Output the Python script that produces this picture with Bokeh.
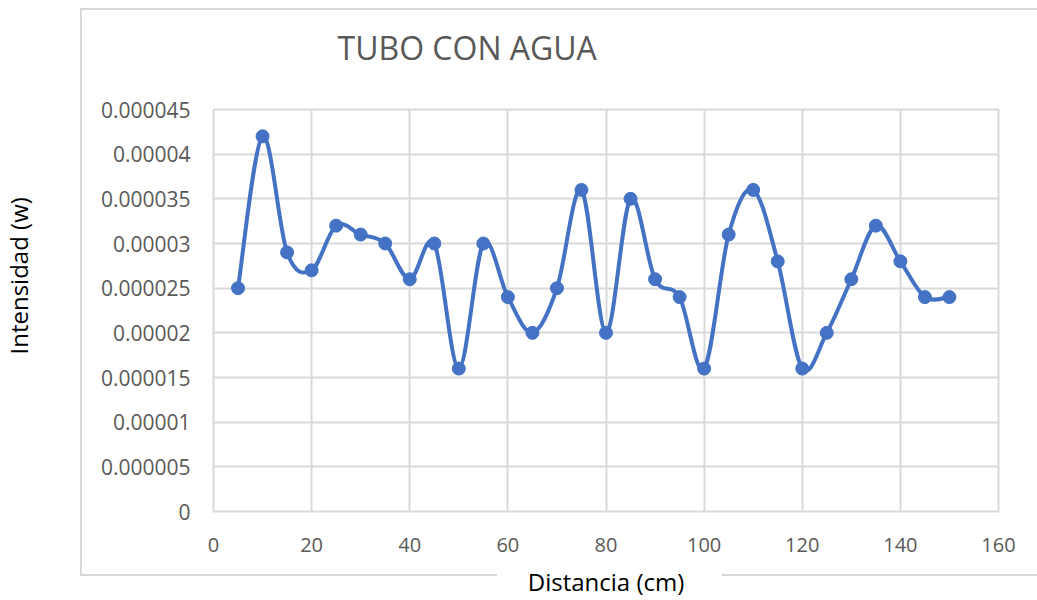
import numpy as np
from bokeh.plotting import figure
from bokeh.models import Range1d, FixedTicker, CustomJSTickFormatter, InlineStyleSheet, Title
from bokeh.embed import file_html
from bokeh.resources import INLINE

# ---- data ----
distancia = [5, 10, 15, 20, 25, 30, 35, 40, 45, 50, 55, 60, 65, 70, 75,
             80, 85, 90, 95, 100, 105, 110, 115, 120, 125, 130, 135, 140, 145, 150]
intensidad = [0.000025, 0.000042, 0.000029, 0.000027, 0.000032, 0.000031, 0.000030,
              0.000026, 0.000030, 0.000016, 0.000030, 0.000024, 0.000020, 0.000025,
              0.000036, 0.000020, 0.000035, 0.000026, 0.000024, 0.000016, 0.000031,
              0.000036, 0.000028, 0.000016, 0.000020, 0.000026, 0.000032, 0.000028,
              0.000024, 0.000024]
x_ticks = [0, 20, 40, 60, 80, 100, 120, 140, 160]
y_ticks = [0, 0.000005, 0.00001, 0.000015, 0.00002, 0.000025, 0.00003,
           0.000035, 0.00004, 0.000045]
title_text = "TUBO CON AGUA"
x_title = "Distancia (cm)"
y_title = "Intensidad (w)"

BLUE = "#4472C4"
GRID = "#d9d9d9"
TICK = "#595959"
FONT = "Open Sans"

W, H = 1037, 600
p = figure(width=W, height=H, output_backend="svg", toolbar_location=None,
           x_range=Range1d(x_ticks[0], x_ticks[-1]),
           y_range=Range1d(y_ticks[0], y_ticks[-1]),
           min_border_left=213, min_border_right=39,
           min_border_top=109, min_border_bottom=88,
           title=title_text)
p.outline_line_color = GRID
p.outline_line_width = 2
p.background_fill_color = "white"
p.border_fill_color = "white"

# title
p.title.text_font = FONT
p.title.text_font_size = "32px"
p.title.text_font_style = "normal"
p.title.text_color = TICK
p.title.align = "left"
p.title.offset = 124
p.title.vertical_align = "top"
try:
    p.title.padding = dict(left=0, right=0, top=0, bottom=39)
    p.title.standoff = 0
except Exception:
    p.title.standoff = 54

# y-axis title as a side title (placed off-centre like the original)
ylab = Title(text=y_title, align="left", offset=157,
             text_font=FONT, text_font_size="24px", text_font_style="normal",
             text_color="black")
try:
    ylab.padding = dict(left=0, right=61, top=0, bottom=0)
    ylab.vertical_align = "top"
    ylab.standoff = 0
except Exception:
    ylab.vertical_align = "bottom"
    ylab.standoff = 62
p.add_layout(ylab, "left")

# axes
p.xaxis.ticker = FixedTicker(ticks=x_ticks)
p.yaxis.ticker = FixedTicker(ticks=y_ticks)
p.yaxis.formatter = CustomJSTickFormatter(code="""
let s = tick.toFixed(6);
s = s.replace(/0+$/, '').replace(/\\.$/, '');
return s;
""")
p.xaxis.axis_label = x_title
for ax in (p.xaxis[0], p.yaxis[0]):
    ax.axis_line_color = None
    ax.major_tick_line_color = None
    ax.minor_tick_line_color = None
    ax.major_tick_out = 0
    ax.major_tick_in = 0
    ax.major_label_text_font = FONT
    ax.major_label_text_color = TICK
    ax.axis_label_text_font = FONT
    ax.axis_label_text_font_size = "24px"
    ax.axis_label_text_font_style = "normal"
    ax.axis_label_text_color = "black"
p.xaxis.major_label_text_font_size = "20px"
p.yaxis.major_label_text_font_size = "21px"
p.xaxis.major_label_standoff = 26
p.yaxis.major_label_standoff = 23
p.xaxis.axis_label_standoff = 10

p.xgrid.ticker = FixedTicker(ticks=x_ticks)
p.ygrid.ticker = FixedTicker(ticks=y_ticks)
for g in (p.xgrid[0], p.ygrid[0]):
    g.grid_line_color = GRID
    g.grid_line_width = 2

# smoothed line (Catmull-Rom style Bezier through the points)
xa = np.array(distancia, dtype=float)
ya = np.array(intensidad, dtype=float)
n = len(xa)
xp = np.concatenate([[xa[0]], xa, [xa[-1]]])
yp = np.concatenate([[ya[0]], ya, [ya[-1]]])
x0 = xa[:-1]; y0 = ya[:-1]; x1 = xa[1:]; y1 = ya[1:]
cx0 = x0 + (xp[2:n + 1] - xp[0:n - 1]) / 6.0
cy0 = y0 + (yp[2:n + 1] - yp[0:n - 1]) / 6.0
cx1 = x1 - (xp[3:n + 2] - xp[1:n]) / 6.0
cy1 = y1 - (yp[3:n + 2] - yp[1:n]) / 6.0
p.bezier(x0=x0, y0=y0, x1=x1, y1=y1, cx0=cx0, cy0=cy0, cx1=cx1, cy1=cy1,
         line_color=BLUE, line_width=4)
p.scatter(distancia, intensidad, size=13, fill_color=BLUE, line_color=BLUE)

# light chart-area border (as in the spreadsheet chart)
css = """
:host { position: relative; }
:host::before {
  content: ""; position: absolute; left: 80px; top: 8px; right: 0; height: 566px;
  border-left: 2px solid #d9d9d9; border-top: 2px solid #d9d9d9;
  pointer-events: none; z-index: 10;
}
:host::after {
  content: ""; position: absolute; left: 80px; top: 574px; right: 0; height: 2px;
  background: linear-gradient(to right, #d9d9d9 0px, #d9d9d9 417px, transparent 417px,
              transparent 642px, #d9d9d9 642px);
  pointer-events: none; z-index: 10;
}
"""
p.stylesheets = [InlineStyleSheet(css=css)]

open("out.html", "w").write(file_html(p, INLINE))
